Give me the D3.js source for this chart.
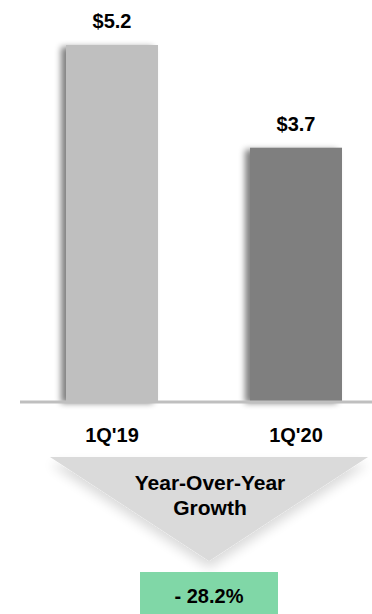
<!DOCTYPE html>
<html lang="en">
<head>
  <meta charset="utf-8">
  <script src="https://d3js.org/d3.v7.min.js"></script>
  <style>
    body { margin: 0; background: #fff; }
    svg { display: block; }
    .lbl { font-family: "Liberation Sans", Arial, sans-serif; font-weight: bold; fill: #000; }
  </style>
</head>
<body>
<script>
  // data
  var categories = ["1Q'19", "1Q'20"];
  var values = [5.2, 3.7];
  var valueLabels = ["$5.2", "$3.7"];
  var barColors = ["#bfbfbf", "#7f7f7f"];
  var growthTitle = ["Year-Over-Year", "Growth"];
  var growthValue = "- 28.2%";

  var w = 372, h = 614;
  var svg = d3.select("body").append("svg")
    .attr("width", w)
    .attr("height", h);

  var defs = svg.append("defs");
  var sh = defs.append("filter").attr("id", "barShadow")
    .attr("x", "-30%").attr("y", "-10%").attr("width", "160%").attr("height", "120%");
  sh.append("feGaussianBlur").attr("in", "SourceAlpha").attr("stdDeviation", 3);
  sh.append("feOffset").attr("dx", -5).attr("dy", 2).attr("result", "ob");
  sh.append("feComponentTransfer").append("feFuncA").attr("type", "linear").attr("slope", 0.5);
  var m = sh.append("feMerge");
  m.append("feMergeNode");
  m.append("feMergeNode").attr("in", "SourceGraphic");

  var ts = defs.append("filter").attr("id", "triShadow")
    .attr("x", "-20%").attr("y", "-20%").attr("width", "140%").attr("height", "160%");
  ts.append("feGaussianBlur").attr("in", "SourceAlpha").attr("stdDeviation", 6);
  ts.append("feOffset").attr("dx", 0).attr("dy", 7);
  ts.append("feComponentTransfer").append("feFuncA").attr("type", "linear").attr("slope", 0.15);
  var m2 = ts.append("feMerge");
  m2.append("feMergeNode");
  m2.append("feMergeNode").attr("in", "SourceGraphic");

  var baseY = 401;
  var x = d3.scaleBand().domain(categories).range([66, 342]).paddingInner(0.5).paddingOuter(0);
  var y = d3.scaleLinear().domain([0, 5.2]).range([baseY, 45]);

  // bars
  svg.selectAll("rect.bar")
    .data(values)
    .enter()
    .append("rect")
    .attr("class", "bar")
    .attr("x", function (d, i) { return x(categories[i]); })
    .attr("y", function (d) { return y(d); })
    .attr("width", x.bandwidth())
    .attr("height", function (d) { return baseY - y(d); })
    .attr("fill", function (d, i) { return barColors[i]; })
    .attr("filter", "url(#barShadow)");

  // baseline
  svg.append("line")
    .attr("x1", 20).attr("x2", w)
    .attr("y1", baseY + 1).attr("y2", baseY + 1)
    .attr("stroke", "#bfbfbf")
    .attr("stroke-width", 3);

  // value labels
  svg.selectAll("text.val")
    .data(values)
    .enter()
    .append("text")
    .attr("class", "lbl")
    .attr("x", function (d, i) { return x(categories[i]) + x.bandwidth() / 2; })
    .attr("y", function (d) { return y(d) - 17; })
    .attr("text-anchor", "middle")
    .attr("font-size", 20)
    .text(function (d, i) { return valueLabels[i]; });

  // category labels
  svg.selectAll("text.cat")
    .data(categories)
    .enter()
    .append("text")
    .attr("class", "lbl")
    .attr("x", function (d) { return x(d) + x.bandwidth() / 2; })
    .attr("y", 442)
    .attr("text-anchor", "middle")
    .attr("font-size", 20)
    .text(function (d) { return d; });

  // growth arrow
  var cx = 209;
  svg.append("path")
    .attr("d", "M50,457 L368,457 L" + cx + ",561 Z")
    .attr("fill", "#dadada")
    .attr("filter", "url(#triShadow)");

  svg.selectAll("text.gt")
    .data(growthTitle)
    .enter()
    .append("text")
    .attr("class", "lbl")
    .attr("x", cx + 1)
    .attr("y", function (d, i) { return 490 + i * 25; })
    .attr("text-anchor", "middle")
    .attr("font-size", 21)
    .text(function (d) { return d; });

  svg.append("rect")
    .attr("x", 140).attr("y", 572)
    .attr("width", 138).attr("height", 42)
    .attr("fill", "#80d7a7");

  svg.append("text")
    .attr("class", "lbl")
    .attr("x", cx)
    .attr("y", 603)
    .attr("text-anchor", "middle")
    .attr("font-size", 20)
    .text(growthValue);
</script>
</body>
</html>
